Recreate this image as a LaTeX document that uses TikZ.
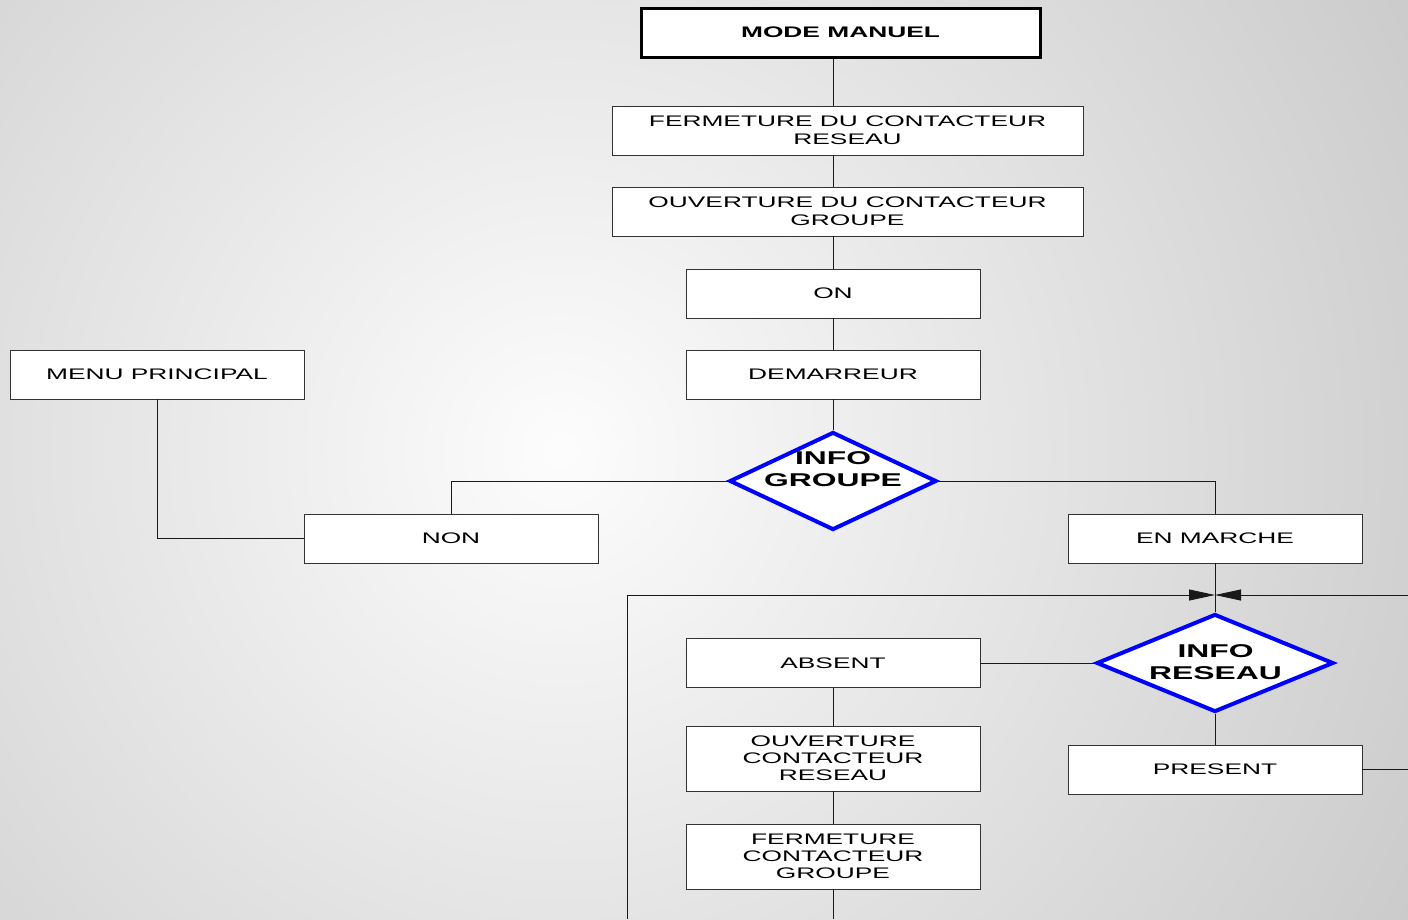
\documentclass[tikz,border=0pt]{standalone}
\usepackage{fontspec}
\setmainfont{Liberation Sans}[FakeStretch=1.72]
\usetikzlibrary{shapes.geometric,arrows.meta}
\tikzset{
  box/.style={draw=black!80, fill=white, line width=0.9pt, minimum width=294pt,
    minimum height=49pt, inner sep=0pt, align=center,
    font=\fontsize{15.3}{18}\selectfont},
  tall/.style={box, minimum height=65pt, font=\fontsize{15.3}{17}\selectfont},
  dia/.style={diamond, draw=blue, line width=4pt, fill=white, inner sep=0pt},
  dtext/.style={align=center, inner sep=0pt, font=\fontsize{18.5}{22}\selectfont\bfseries},
  conn/.style={draw=black!90, line width=0.9pt},
  arr/.style={conn, -{Triangle[length=26pt,width=11pt]}}
}
\begin{document}
\begin{tikzpicture}[x=1pt,y=-1pt]
\useasboundingbox (0,0) rectangle (1408,919);
\begin{scope}
\clip (0,0) rectangle (1408,919);
\shade[inner color=black!1, outer color=black!21] (560,450) circle (1000);
\end{scope}

% nodes
\node[box, minimum width=399pt, line width=3pt, draw=black, font=\fontsize{15.3}{18}\selectfont\bfseries] (mm) at (840.5,32.5) {MODE MANUEL};
\node[box, minimum width=471pt] (f1) at (847.5,130.5) {FERMETURE DU CONTACTEUR\\RESEAU};
\node[box, minimum width=471pt] (o1) at (847.5,211.5) {OUVERTURE DU CONTACTEUR\\GROUPE};
\node[box] (on) at (833,293.5) {ON};
\node[box] (dem) at (833,374.5) {DEMARREUR};
\node[dia, minimum width=207pt, minimum height=98pt] (ig) at (833,481) {};
\node[dtext] (igt) at (833,469) {INFO\\GROUPE};
\node[box] (menu) at (157,374.5) {MENU PRINCIPAL};
\node[box] (non) at (451,538.5) {NON};
\node[box] (em) at (1215,538.5) {EN MARCHE};
\node[dia, minimum width=237pt, minimum height=98pt] (ir) at (1215,663) {};
\node[dtext] (irt) at (1215.5,662) {INFO\\RESEAU};
\node[box] (abs) at (833,663) {ABSENT};
\node[box] (pres) at (1215,769.5) {PRESENT};
\node[tall] (ocr) at (833,758.5) {OUVERTURE\\CONTACTEUR\\RESEAU};
\node[tall] (fcg) at (833,856.5) {FERMETURE\\CONTACTEUR\\GROUPE};

\coordinate (ar) at (1215,595);
\coordinate (lb) at (627,919);
\coordinate (rr) at (1408,595);
\coordinate (pr) at (1408,769.5);
\coordinate (fb) at (833,919);

% connectors
\draw[conn] (on.north |- mm.south) -- (on.north |- f1.north);
\draw[conn] (on.north |- f1.south) -- (on.north |- o1.north);
\draw[conn] (on.north |- o1.south) -- (on.north);
\draw[conn] (on.south) -- (dem.north);
\draw[conn] (dem.south) -- (ig.north);
\draw[conn] (ig.west) -| (non.north);
\draw[conn] (ig.east) -| (em.north);
\draw[conn] (menu.south) |- (non.west);
\draw[conn] (em.south) -- (ir.north);
\draw[conn] (abs.east) -- (ir.west);
\draw[conn] (ir.south) -- (pres.north);
\draw[conn] (pres.east) -- (pr);
\draw[conn] (abs.south) -- (ocr.north);
\draw[conn] (ocr.south) -- (fcg.north);
\draw[conn] (fcg.south) -- (fb);
\draw[arr] (lb) |- (ar);
\draw[arr] (rr) -- (ar);
\end{tikzpicture}
\end{document}
